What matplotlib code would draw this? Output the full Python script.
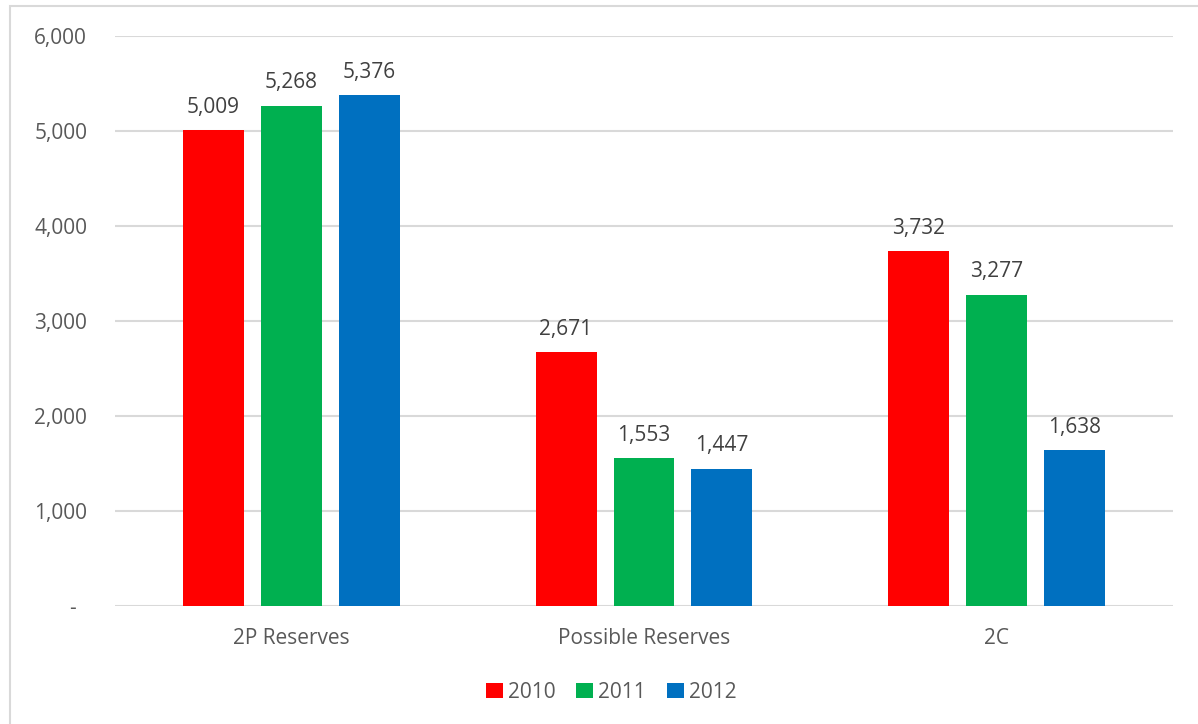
import numpy as np
import matplotlib.pyplot as plt
from matplotlib.patches import Rectangle
from matplotlib.ticker import FuncFormatter

# reserve volumes by category and year
categories = ["2P Reserves", "Possible Reserves", "2C"]
years = ["2010", "2011", "2012"]
values_2010 = [5009, 2671, 3732]
values_2011 = [5268, 1553, 3277]
values_2012 = [5376, 1447, 1638]
colors = ["#FF0000", "#00B050", "#0070C0"]

plt.rcParams['font.family'] = ['Open Sans', 'DejaVu Sans']

def fmt(v, pos=None):
    # accounting style: zero shown as a dash, set in from the right edge
    return "-  " if v == 0 else f"{int(v):,}"

def main():
    fig = plt.figure(figsize=(11.98, 7.24), dpi=100)
    ax = fig.add_axes([115 / 1198, 118 / 724, 1058 / 1198, 570 / 724])

    # light frame around the whole chart
    fig.patches.append(Rectangle((9.5 / 1198, -0.05), 1.2, 1 - 5.5 / 724 + 0.05,
                                 transform=fig.transFigure, fill=False,
                                 edgecolor="#D9D9D9", linewidth=1.5))

    x = np.arange(len(categories))
    width = 61 / 352.7
    step = 78 / 352.7
    series = [values_2010, values_2011, values_2012]
    for i, (year, vals, c) in enumerate(zip(years, series, colors)):
        bars = ax.bar(x + (i - 1) * step, vals, width, color=c, label=year, zorder=3)
        for b, v in zip(bars, vals):
            ax.annotate(f"{v:,}", (b.get_x() + b.get_width() / 2, v),
                        xytext=(0, 9), textcoords="offset points",
                        ha="center", va="bottom", fontsize=15, color="#404040")

    ax.set_xlim(-0.5, 2.5)
    ax.set_ylim(0, 6000)
    ax.set_yticks(np.arange(0, 6001, 1000))
    ax.yaxis.set_major_formatter(FuncFormatter(fmt))
    ax.set_xticks(x)
    ax.set_xticklabels(categories)
    ax.tick_params(axis="y", length=0, pad=20, labelsize=15, labelcolor="#595959")
    ax.tick_params(axis="x", length=0, pad=16, labelsize=15, labelcolor="#595959")
    ax.grid(axis="y", color="#D9D9D9", linewidth=1.5, zorder=0)
    for s in ax.spines.values():
        s.set_visible(False)

    leg = ax.legend(loc="upper center", bbox_to_anchor=(0.469, -0.1), ncol=3,
                    frameon=False, fontsize=15, handlelength=0.8, handleheight=0.8,
                    handletextpad=0.25, columnspacing=1.0)
    for t in leg.get_texts():
        t.set_color("#595959")

    fig.savefig("out.png", dpi=100, facecolor="white")
    plt.close(fig)

if __name__ == "__main__":
    main()
